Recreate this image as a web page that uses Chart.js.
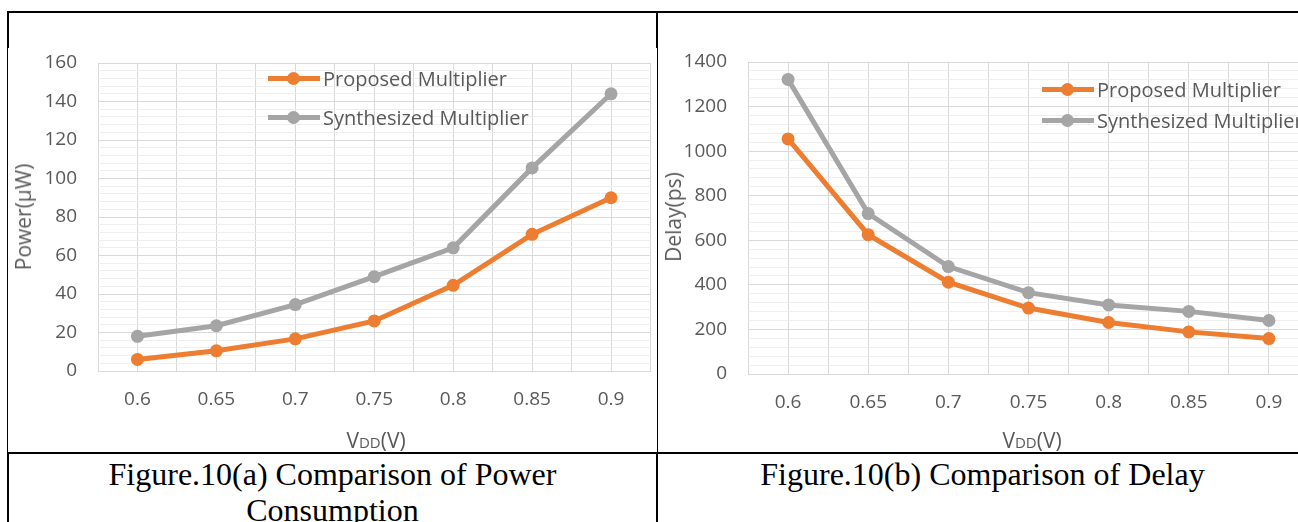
<!DOCTYPE html>
<html lang="en">
<head>
  <meta charset="UTF-8" />
  <title>Figure.10 Power and Delay</title>
  <style>
    html, body {
      margin: 0;
      padding: 0;
      width: 1298px;
      height: 522px;
      overflow: hidden;
      background: #fff;
    }
    .rule {
      position: absolute;
      background: #000;
    }
    .panel {
      position: absolute;
      background: #fff;
      z-index: 2;
    }
    .panel canvas {
      display: block;
    }
    .leg {
      position: absolute;
      z-index: 3;
      display: flex;
      align-items: center;
      height: 26px;
      font: 20px "Open Sans", sans-serif;
      color: #595959;
      white-space: nowrap;
    }
    .leg i {
      position: relative;
      display: inline-block;
      width: 52px;
      height: 5px;
      margin-right: 3px;
    }
    .leg i::after {
      content: "";
      position: absolute;
      left: 19px;
      top: -4px;
      width: 13px;
      height: 13px;
      border-radius: 50%;
      background: inherit;
    }
    .ytitle {
      position: absolute;
      z-index: 3;
      font: 21px "Open Sans", sans-serif;
      color: #595959;
      white-space: nowrap;
      transform: translate(-50%, -50%) rotate(-90deg);
    }
    .xtitle {
      position: absolute;
      z-index: 3;
      font: 21px "Open Sans", sans-serif;
      color: #595959;
      white-space: nowrap;
      transform: translate(-50%, -50%);
    }
    .xtitle small {
      font-size: 15px;
    }
    .caption {
      position: absolute;
      top: 456px;
      font: 32px/36px "Liberation Serif", "Times New Roman", serif;
      color: #000;
      text-align: center;
    }
  </style>
  <script src="https://cdn.jsdelivr.net/npm/chart.js"></script>
</head>
<body>

<!-- table lines -->
<div class="rule" style="left:7px; top:11px; width:1300px; height:2px;"></div>
<div class="rule" style="left:7px; top:11px; width:2px; height:520px;"></div>
<div class="rule" style="left:656px; top:11px; width:2px; height:520px;"></div>
<div class="rule" style="left:7px; top:452px; width:1300px; height:2px;"></div>

<div class="panel" style="left:8px; top:48px; width:649px; height:404px;">
  <canvas id="powerChart" width="649" height="404"></canvas>
</div>
<div class="panel" style="left:658px; top:48px; width:660px; height:404px;">
  <canvas id="delayChart" width="660" height="404"></canvas>
</div>

<div class="ytitle" style="left:23px; top:217px;">Power(µW)</div>
<div class="xtitle" style="left:376px; top:440px;">V<small>DD</small>(V)</div>
<div class="ytitle" style="left:673px; top:217px;">Delay(ps)</div>
<div class="xtitle" style="left:1032px; top:440px;">V<small>DD</small>(V)</div>

<div class="leg" style="left:268px; top:65px;"><i style="background:#ED7D31"></i>Proposed Multiplier</div>
<div class="leg" style="left:268px; top:104px;"><i style="background:#A5A5A5"></i>Synthesized Multiplier</div>
<div class="leg" style="left:1042px; top:76px;"><i style="background:#ED7D31"></i>Proposed Multiplier</div>
<div class="leg" style="left:1042px; top:107px;"><i style="background:#A5A5A5"></i>Synthesized Multiplier</div>

<div class="caption" style="left:8px; width:649px;">Figure.10(a) Comparison of Power<br>Consumption</div>
<div class="caption" style="left:658px; width:649px;">Figure.10(b) Comparison of Delay</div>

<script>
  const vdd = ['0.6', '0.65', '0.7', '0.75', '0.8', '0.85', '0.9'];

  // Power (µW)
  const powerProposed = [6, 10.5, 16.7, 26, 44.5, 71, 90];
  const powerSynthesized = [18, 23.5, 34.5, 49, 64, 105.5, 144];

  // Delay (ps)
  const delayProposed = [1055, 625, 412, 296, 231, 189, 159];
  const delaySynthesized = [1322, 720, 482, 365, 310, 281, 240];

  const ORANGE = '#ED7D31';
  const GRAY = '#A5A5A5';
  const TICK_FONT = { family: '"Open Sans", sans-serif', size: 19 };

  function serie(label, values, color) {
    return {
      label: label,
      data: values.map((v, i) => ({ x: i, y: v })),
      borderColor: color,
      backgroundColor: color,
      pointBackgroundColor: color,
      pointBorderColor: color,
      borderWidth: 5,
      pointRadius: 6.5,
      pointBorderWidth: 0,
      tension: 0
    };
  }

  // the tick padding would otherwise be added around the plot area
  function noPadding(s) {
    s.paddingTop = 0;
    s.paddingBottom = 0;
    s.paddingLeft = 0;
    s.paddingRight = 0;
  }

  function makeChart(id, datasets, yMax, yMinor, yMajor, padRight, padTop, xHeight) {
    const ctx = document.getElementById(id).getContext('2d');
    return new Chart(ctx, {
      type: 'line',
      data: { datasets: datasets },
      options: {
        responsive: false,
        animation: false,
        layout: { padding: { left: 0, right: padRight, top: padTop, bottom: 0 } },
        plugins: { legend: { display: false }, tooltip: { enabled: false } },
        scales: {
          x: {
            type: 'linear',
            min: -0.5,
            max: vdd.length - 0.5,
            afterFit: s => { s.height = xHeight; noPadding(s); },
            ticks: {
              stepSize: 0.5,
              autoSkip: false,
              maxRotation: 0,
              padding: 17,
              color: '#595959',
              font: TICK_FONT,
              callback: v => Number.isInteger(v) ? vdd[v] : ''
            },
            grid: { color: '#d9d9d9', drawTicks: false },
            border: { color: '#d9d9d9' }
          },
          y: {
            min: 0,
            max: yMax,
            afterFit: s => { s.width = 90; noPadding(s); },
            ticks: {
              stepSize: yMinor,
              autoSkip: false,
              padding: 21,
              color: '#595959',
              font: TICK_FONT,
              callback: v => v % yMajor === 0 ? v : ''
            },
            grid: {
              drawTicks: false,
              color: c => c.tick.value % yMajor === 0 ? '#d9d9d9' : '#eeeeee'
            },
            border: { display: false }
          }
        }
      }
    });
  }

  makeChart('powerChart', [
    serie('Proposed Multiplier', powerProposed, ORANGE),
    serie('Synthesized Multiplier', powerSynthesized, GRAY)
  ], 160, 4, 20, 2.5, 15, 81);

  makeChart('delayChart', [
    serie('Proposed Multiplier', delayProposed, ORANGE),
    serie('Synthesized Multiplier', delaySynthesized, GRAY)
  ], 1400, 40, 200, 9, 14, 78);
</script>

</body>
</html>
